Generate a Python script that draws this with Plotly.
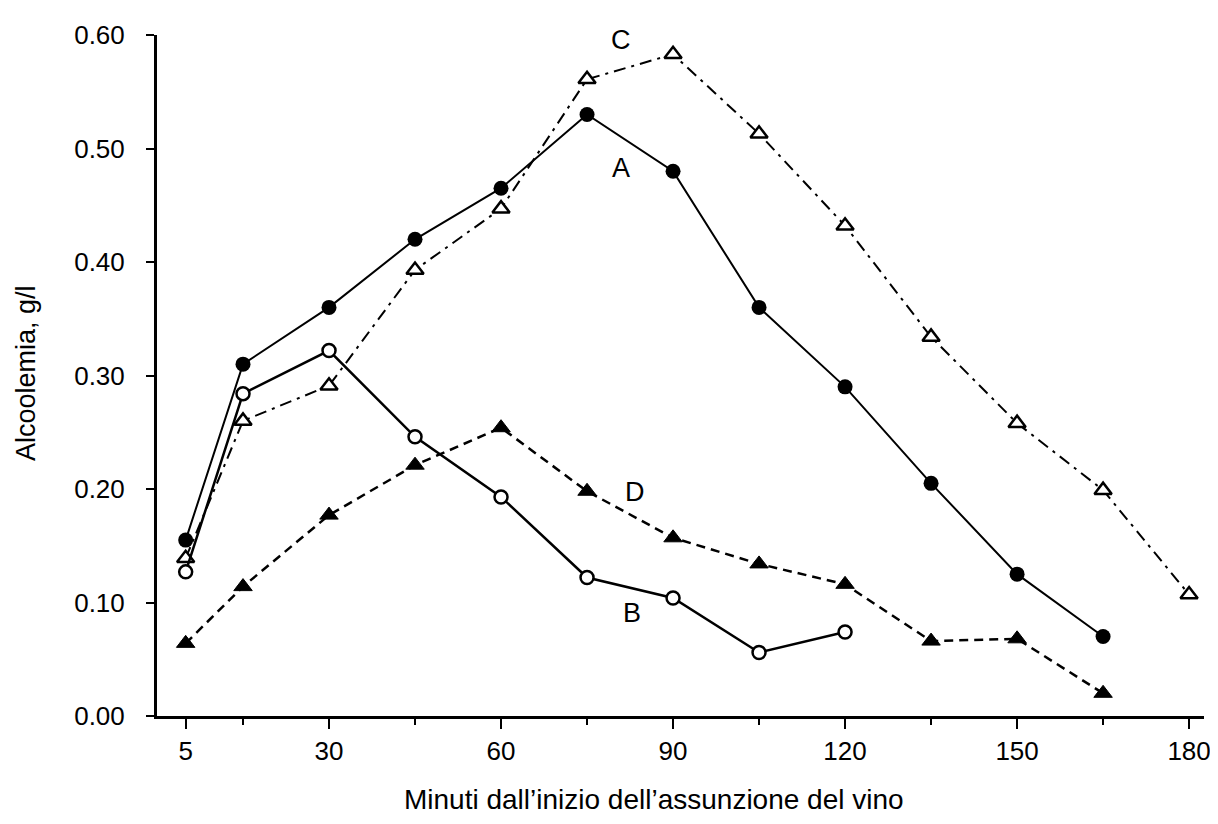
import plotly.graph_objects as go

# ---- data (minutes, g/l) ----
t_A = [5, 15, 30, 45, 60, 75, 90, 105, 120, 135, 150, 165]
v_A = [0.155, 0.31, 0.36, 0.42, 0.465, 0.53, 0.48, 0.36, 0.29, 0.205, 0.125, 0.07]

t_B = [5, 15, 30, 45, 60, 75, 90, 105, 120]
v_B = [0.127, 0.284, 0.322, 0.246, 0.193, 0.122, 0.104, 0.056, 0.074]

t_C = [5, 15, 30, 45, 60, 75, 90, 105, 120, 135, 150, 165, 180]
v_C = [0.139, 0.26, 0.291, 0.393, 0.447, 0.561, 0.583, 0.513, 0.432, 0.334, 0.258, 0.199, 0.107]

t_D = [5, 15, 30, 45, 60, 75, 90, 105, 120, 135, 150, 165]
v_D = [0.064, 0.114, 0.177, 0.221, 0.254, 0.198, 0.157, 0.134, 0.116, 0.066, 0.068, 0.02]

x_ticks = [5, 30, 60, 90, 120, 150, 180]
x_minor = [15, 45, 75, 105, 135, 165]
y_ticks = [0.0, 0.1, 0.2, 0.3, 0.4, 0.5, 0.6]

labels = ["C", "A", "D", "B"]
label_x = [81, 81, 83.3, 82.8]
label_y = [0.596, 0.483, 0.197, 0.091]

x_title = "Minuti dall\u2019inizio dell\u2019assunzione del vino"
y_title = "Alcoolemia, g/l"

FONT = "Liberation Sans, Arial, Helvetica, sans-serif"

fig = go.Figure()

fig.add_trace(go.Scatter(
    x=t_C, y=v_C, mode="lines+markers",
    line=dict(color="black", width=2, dash="12px,6px,3px,6px"),
    marker=dict(symbol="triangle-up", size=15, color="white",
                line=dict(color="black", width=2.5)),
    name="C"))

fig.add_trace(go.Scatter(
    x=t_D, y=v_D, mode="lines+markers",
    line=dict(color="black", width=2.5, dash="9px,6px"),
    marker=dict(symbol="triangle-up", size=16, color="black",
                line=dict(color="black", width=1)),
    name="D"))

fig.add_trace(go.Scatter(
    x=t_B, y=v_B, mode="lines+markers",
    line=dict(color="black", width=2.5),
    marker=dict(symbol="circle", size=13, color="white",
                line=dict(color="black", width=2.5)),
    name="B"))

fig.add_trace(go.Scatter(
    x=t_A, y=v_A, mode="lines+markers",
    line=dict(color="black", width=2),
    marker=dict(symbol="circle", size=15, color="black"),
    name="A"))

for lab, lx, ly in zip(labels, label_x, label_y):
    fig.add_annotation(x=lx, y=ly, text=lab, showarrow=False,
                       font=dict(family=FONT, size=27, color="black"))

# axis titles as paper-positioned annotations
fig.add_annotation(xref="paper", yref="paper", x=0.475, y=-0.122,
                   xanchor="center", yanchor="middle", showarrow=False,
                   text=x_title, font=dict(family=FONT, size=28, color="black"))
fig.add_annotation(xref="paper", yref="paper", x=-0.1245, y=0.503,
                   xanchor="center", yanchor="middle", showarrow=False,
                   textangle=-90,
                   text=y_title, font=dict(family=FONT, size=27, color="black"))

# page body adds an 8px offset, so margins are shifted accordingly
fig.update_layout(
    width=1218, height=824,
    margin=dict(l=149, r=22, t=20, b=116),
    paper_bgcolor="white", plot_bgcolor="white",
    showlegend=False,
    font=dict(family=FONT, color="black"),
)

fig.update_xaxes(
    range=[0, 182.6], tickvals=x_ticks, ticktext=[str(v) for v in x_ticks],
    ticks="outside", ticklen=10, tickwidth=2, tickcolor="black",
    minor=dict(tickvals=x_minor, ticks="outside", ticklen=6, tickwidth=2, tickcolor="black"),
    showline=True, linewidth=3, linecolor="black",
    showgrid=False, zeroline=False,
    ticklabelstandoff=0,
    tickfont=dict(family=FONT, size=26, color="black"),
)

fig.update_yaxes(
    range=[0, 0.6], tickvals=y_ticks, tickformat=".2f",
    ticks="outside", ticklen=8, tickwidth=2, tickcolor="black",
    showline=True, linewidth=3, linecolor="black",
    showgrid=False, zeroline=False,
    ticklabelstandoff=16,
    tickfont=dict(family=FONT, size=26, color="black"),
)

fig.write_html("out.html")
